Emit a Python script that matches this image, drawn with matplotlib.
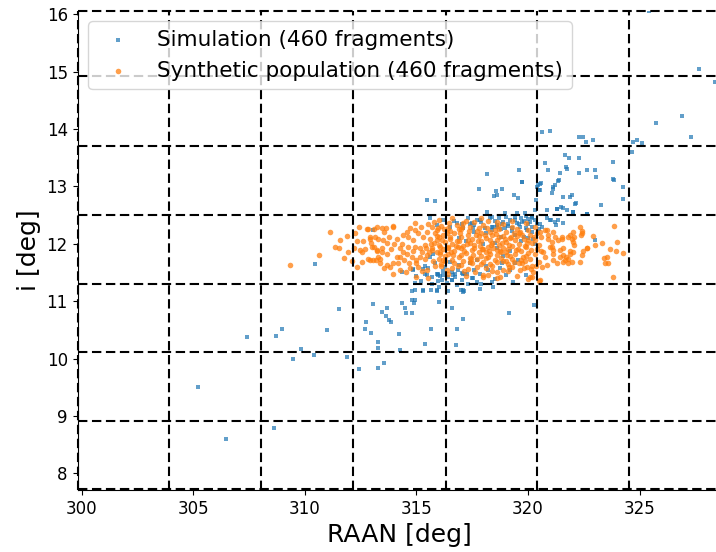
import numpy as np
import matplotlib
matplotlib.use("Agg")
import matplotlib.pyplot as plt

# Simulation fragments (RAAN deg, inclination deg)
sim_points = [
    (305.22, 9.50), (306.44, 8.59), (307.38, 10.38), (308.60, 8.79), (308.71, 10.40),
    (308.95, 10.51), (309.48, 9.99), (309.84, 10.16), (310.40, 10.06), (310.99, 10.49),
    (311.52, 10.86), (311.87, 10.02), (312.42, 9.82), (310.46, 11.64), (313.03, 10.95),
    (313.68, 10.88), (313.44, 10.81), (313.62, 10.74), (313.75, 10.68), (313.84, 10.63),
    (312.74, 10.63), (312.68, 10.51), (312.96, 10.45), (313.26, 10.29), (313.26, 10.18),
    (313.26, 9.83), (313.56, 9.93), (314.20, 10.43), (314.26, 10.15), (314.36, 10.97),
    (314.48, 10.88), (314.54, 10.79), (314.78, 10.79), (314.78, 11.02), (314.93, 11.02),
    (314.90, 10.96), (314.78, 11.17), (315.36, 10.26), (315.65, 10.51), (315.31, 11.17),
    (315.65, 11.19), (315.93, 11.17), (316.01, 10.98), (316.59, 10.88), (317.07, 10.69),
    (316.82, 10.51), (316.76, 10.24), (316.98, 11.19), (317.13, 11.17), (318.44, 11.24),
    (319.16, 10.79), (320.27, 10.93), (313.07, 12.24), (314.34, 11.51), (314.86, 11.54),
    (315.46, 12.76), (315.83, 12.74), (318.15, 13.21), (317.80, 12.95), (318.59, 12.85),
    (318.15, 12.56), (320.61, 13.94), (320.99, 13.97), (319.61, 13.28), (320.78, 13.40),
    (320.91, 13.28), (319.71, 13.08), (318.57, 12.92), (318.85, 12.95), (318.49, 12.83),
    (319.39, 12.85), (319.53, 12.79), (320.54, 13.04), (320.39, 12.98), (320.49, 12.93),
    (321.14, 12.96), (321.21, 13.02), (321.36, 13.09), (322.30, 13.86), (322.45, 13.86),
    (322.60, 13.78), (322.93, 13.80), (325.73, 14.10), (324.69, 13.78), (324.87, 13.80),
    (325.13, 13.76), (324.65, 13.60), (321.66, 13.54), (321.84, 13.49), (322.30, 13.50),
    (321.73, 13.31), (321.43, 13.24), (322.30, 13.24), (322.66, 13.28), (323.00, 13.28),
    (323.05, 13.17), (323.83, 13.42), (323.83, 13.13), (324.28, 12.99), (324.28, 12.78),
    (319.75, 13.08), (320.43, 13.02), (320.58, 13.05), (321.39, 13.11), (320.36, 12.76),
    (320.54, 12.93), (321.88, 12.82), (322.15, 12.71), (321.32, 12.61), (321.59, 12.63),
    (321.77, 12.58), (322.66, 12.51), (320.84, 12.58), (321.02, 12.42), (323.00, 12.06),
    (320.24, 12.09), (321.13, 12.99), (321.96, 12.85), (322.11, 12.70), (321.47, 12.64),
    (321.29, 12.60), (322.03, 12.55), (323.27, 12.67), (323.86, 13.11), (320.84, 12.44),
    (321.00, 12.41), (321.21, 12.38), (321.36, 12.41), (321.59, 12.36), (321.26, 12.32),
    (320.54, 12.35), (320.61, 12.29), (327.67, 15.05), (328.39, 14.82), (326.92, 14.23),
    (327.31, 13.86), (325.44, 16.05), (321.70, 13.34), (321.06, 12.89), (321.55, 12.82),
    (322.00, 12.56), (322.63, 12.52),
    (318.3, 12.45), (318.5, 12.40), (318.7, 12.44), (318.9, 12.38), (319.0, 12.46),
    (319.2, 12.42), (319.4, 12.47), (319.5, 12.36), (319.7, 12.44), (319.8, 12.40),
    (319.9, 12.48), (320.0, 12.43), (320.1, 12.38), (320.2, 12.45), (320.3, 12.41),
    (320.4, 12.34), (318.4, 12.30), (318.6, 12.33), (318.8, 12.25), (319.1, 12.31),
    (319.3, 12.22), (319.6, 12.34), (319.9, 12.27), (320.2, 12.20), (320.5, 12.25),
    (317.9, 12.38), (317.6, 12.32), (317.3, 12.44), (317.1, 12.28), (316.8, 12.36),
    (316.5, 12.30), (316.2, 12.41), (315.9, 12.33), (315.6, 12.45), (318.1, 12.18),
    (318.8, 12.12), (319.4, 12.15), (320.0, 12.10), (319.7, 12.05), (318.5, 12.02),
    (316.70, 12.40), (317.70, 12.41), (317.40, 12.35), (318.07, 12.28), (318.37, 12.24),
    (318.60, 12.29), (318.82, 12.35), (319.12, 12.35), (319.42, 12.41), (319.72, 12.38),
    (320.01, 12.35), (320.17, 12.29), (319.94, 12.24), (319.64, 12.29), (319.27, 12.27),
    (318.97, 12.27), (320.31, 12.59), (318.97, 12.53), (319.49, 12.53), (319.87, 12.53),
    (320.17, 12.47), (317.06, 12.34), (317.47, 12.36), (317.55, 12.27), (317.85, 12.41),
    (318.37, 12.47), (318.44, 12.29),
    (315.38, 11.48), (315.68, 11.42), (315.98, 11.45), (316.13, 11.37), (316.58, 11.37),
    (316.73, 11.42), (316.87, 11.54), (316.28, 11.60), (316.50, 11.68), (315.83, 11.66),
    (315.53, 11.57), (317.17, 11.48), (317.47, 11.40), (317.85, 11.48), (318.22, 11.54),
    (318.74, 11.57), (318.82, 11.66), (319.19, 11.54), (319.42, 11.66), (319.57, 11.71),
    (315.61, 11.77), (315.75, 11.83), (317.40, 11.66), (317.03, 11.37), (314.98, 11.44),
    (315.46, 11.45), (315.91, 11.47), (316.05, 11.44), (316.20, 11.45), (316.43, 11.42),
    (316.73, 11.48), (317.03, 11.49), (317.25, 11.47), (317.09, 11.19), (317.70, 11.34),
    (318.37, 11.34), (314.93, 11.31), (315.98, 11.35), (316.35, 11.31), (316.58, 11.37),
    (314.86, 11.56), (315.30, 11.56), (315.95, 11.48), (316.65, 11.45), (317.10, 11.48),
    (317.55, 11.40), (314.93, 11.19), (315.30, 11.19), (315.91, 11.19), (317.10, 11.16),
    (317.85, 11.22), (319.34, 11.34), (319.9, 11.45), (318.9, 11.78), (317.7, 11.72),
    (315.7, 11.30), (316.0, 11.24), (316.4, 11.18), (316.8, 11.28), (317.3, 11.30),
    (316.2, 11.52), (316.9, 11.63), (317.6, 11.55), (318.1, 11.62), (318.5, 11.38),
    (319.0, 11.45), (316.6, 11.50), (317.9, 11.30), (315.2, 11.35), (315.4, 11.62),
    (317.2, 12.05), (318.0, 12.00), (318.6, 11.93), (319.2, 11.88), (319.8, 12.12),
    (320.3, 12.00), (317.6, 12.20), (316.9, 12.10),
]

# Synthetic population (RAAN deg, inclination deg)
syn_points = [
    (309.33, 11.63), (310.63, 11.80), (311.11, 12.21), (311.58, 12.07), (311.35, 11.95),
    (311.51, 11.92), (311.75, 11.76), (312.09, 11.70), (312.24, 12.18), (312.32, 11.60),
    (312.57, 11.68), (312.54, 11.85), (312.35, 12.05), (312.61, 12.05), (312.81, 12.25),
    (312.91, 12.12), (313.29, 12.09), (312.96, 12.01), (313.09, 11.95), (313.21, 11.87),
    (312.91, 11.71), (313.18, 11.71), (313.36, 11.74), (313.56, 12.21), (313.69, 11.83),
    (313.81, 11.60), (313.56, 11.57), (313.96, 12.29), (314.11, 12.09), (314.26, 11.92),
    (314.11, 11.77), (314.18, 11.66), (314.56, 12.21), (314.71, 12.27), (315.08, 12.18),
    (314.63, 12.12), (314.86, 12.06), (314.93, 11.95), (314.56, 11.83), (314.78, 11.77),
    (315.00, 11.71), (315.08, 11.60), (315.30, 12.12), (315.38, 11.98), (315.23, 11.86),
    (315.38, 11.74), (315.53, 12.35),
    (312.77, 12.25), (313.09, 12.25), (313.24, 12.29), (313.47, 12.28), (313.63, 12.27),
    (313.96, 12.31), (312.91, 12.09), (313.14, 12.12), (313.51, 12.06), (313.66, 12.01),
    (312.99, 11.95), (313.21, 11.89), (313.44, 11.92), (312.47, 11.89), (312.84, 11.74),
    (313.06, 11.71), (313.29, 11.77), (313.36, 11.66), (313.69, 11.63), (313.96, 11.66),
    (314.26, 11.77), (314.41, 11.86), (314.63, 11.95), (314.93, 12.24), (315.68, 12.29),
    (315.83, 12.18), (315.91, 12.06), (316.05, 11.95), (315.68, 11.89), (315.46, 11.80),
    (315.16, 11.77), (315.00, 11.66), (314.71, 11.57), (314.26, 11.54), (315.46, 11.54),
    (315.53, 11.41), (315.00, 11.42), (316.05, 11.86), (316.20, 11.71), (316.43, 11.95),
    (316.50, 12.12), (316.35, 12.18),
    (316.0, 12.42), (316.6, 12.44), (317.2, 12.40), (317.9, 12.45), (318.6, 12.38),
    (319.3, 12.40), (319.9, 12.36), (320.3, 12.30),
    (316.1, 12.31), (316.4, 12.27), (316.8, 12.33), (317.0, 12.25), (317.4, 12.29),
    (317.7, 12.22), (318.0, 12.32), (318.3, 12.20), (318.7, 12.26), (319.0, 12.21),
    (319.3, 12.30), (319.6, 12.19), (320.0, 12.24), (320.4, 12.18),
    (315.9, 12.14), (316.2, 12.16), (316.5, 12.09), (316.7, 12.18), (317.0, 12.12),
    (317.3, 12.16), (317.5, 12.08), (317.8, 12.13), (318.1, 12.10), (318.4, 12.15),
    (318.6, 12.07), (318.9, 12.14), (319.2, 12.10), (319.5, 12.13), (319.8, 12.08),
    (320.1, 12.15), (320.3, 12.06), (320.6, 12.12),
    (315.8, 12.02), (316.0, 11.97), (316.3, 12.03), (316.6, 11.99), (316.9, 12.04),
    (317.1, 11.96), (317.4, 12.01), (317.6, 11.98), (317.9, 12.04), (318.2, 11.95),
    (318.4, 12.02), (318.7, 11.97), (319.0, 12.03), (319.3, 11.96), (319.6, 12.00),
    (319.9, 11.94), (320.2, 12.01), (320.5, 11.97),
    (315.9, 11.85), (316.2, 11.90), (316.4, 11.83), (316.7, 11.88), (317.0, 11.92),
    (317.2, 11.84), (317.5, 11.89), (317.8, 11.86), (318.0, 11.91), (318.3, 11.83),
    (318.6, 11.89), (318.8, 11.85), (319.1, 11.91), (319.4, 11.82), (319.7, 11.88),
    (320.0, 11.84), (320.4, 11.90),
    (316.0, 11.74), (316.3, 11.78), (316.6, 11.72), (316.9, 11.77), (317.1, 11.70),
    (317.4, 11.76), (317.7, 11.73), (318.0, 11.69), (318.2, 11.77), (318.5, 11.72),
    (318.8, 11.76), (319.0, 11.70), (319.3, 11.74), (319.7, 11.71), (320.1, 11.73),
    (320.5, 11.68),
    (316.1, 11.61), (316.6, 11.58), (317.0, 11.63), (317.3, 11.56), (317.7, 11.60),
    (318.1, 11.57), (318.4, 11.62), (318.9, 11.55), (319.3, 11.60), (319.8, 11.58),
    (320.2, 11.62),
    (316.4, 11.47), (317.2, 11.43), (318.0, 11.46), (318.6, 11.41), (319.5, 11.44),
    (320.0, 11.38),
    (316.5, 12.22), (317.1, 12.36), (317.6, 12.38), (318.2, 12.39), (318.9, 12.34),
    (319.5, 12.25), (317.3, 12.07), (317.9, 12.19), (318.5, 12.24), (316.8, 12.05),
    (317.6, 11.93), (318.3, 12.06), (318.9, 11.92), (319.4, 12.06), (316.4, 11.93),
    (317.0, 11.80), (317.9, 11.79), (318.6, 11.81), (319.2, 11.79), (319.9, 11.79),
    (316.7, 11.66), (317.5, 11.67), (318.3, 11.65), (319.1, 11.64), (319.6, 11.66),
    (320.3, 11.82), (320.6, 11.87), (317.8, 12.27), (316.3, 11.70), (315.7, 11.93),
    (315.9, 12.24), (316.9, 12.26), (318.1, 11.85), (319.0, 11.86), (318.7, 12.12),
    (320.0, 12.06),
    (316.15, 12.06), (316.45, 12.37), (316.75, 11.96), (316.95, 12.19), (317.15, 11.88),
    (317.35, 12.22), (317.55, 11.81), (317.75, 12.05), (317.95, 11.90), (318.15, 12.28),
    (318.35, 11.98), (318.55, 12.17), (318.75, 11.87), (318.95, 12.08), (319.15, 11.97),
    (319.35, 12.19), (319.55, 11.91), (319.75, 12.15), (319.95, 12.01), (320.15, 11.89),
    (316.05, 11.82), (316.25, 12.25), (316.55, 11.86), (316.85, 11.94), (317.05, 12.30),
    (317.25, 11.99), (317.45, 11.74), (317.65, 12.16), (317.85, 11.96), (318.05, 12.15),
    (318.25, 11.87), (318.45, 11.93), (318.65, 12.31), (318.85, 12.02), (319.05, 11.81),
    (319.25, 12.12), (319.45, 11.89), (319.65, 12.21), (319.85, 11.96), (320.25, 12.11),
    (316.12, 11.65), (316.38, 11.55), (316.62, 11.80), (316.88, 11.62), (317.12, 11.52),
    (317.38, 11.69), (317.62, 11.51), (317.88, 11.64), (318.12, 11.75), (318.38, 11.53),
    (318.62, 11.68), (318.88, 11.70), (319.12, 11.52), (319.38, 11.69), (319.62, 11.55),
    (319.88, 11.70), (320.12, 11.56), (320.38, 11.62),
    (315.62, 12.09), (315.72, 11.70), (315.85, 11.62), (315.55, 11.86), (315.78, 12.38),
    (315.48, 12.20), (315.95, 12.28), (316.02, 12.12), (315.65, 11.99), (315.42, 11.93),
    (314.35, 12.00), (314.45, 11.72), (314.65, 11.66), (314.85, 11.88), (315.15, 11.93),
    (315.20, 12.30), (314.95, 12.37), (314.40, 12.15), (313.85, 11.90), (313.75, 12.12),
    (314.00, 11.99), (315.25, 11.52), (314.55, 11.50), (313.95, 11.48), (313.45, 11.85),
    (312.70, 11.90), (312.20, 11.93), (311.90, 12.13), (311.95, 11.85), (312.40, 12.30),
    (323.86, 12.31), (324.01, 12.03), (323.68, 11.90), (323.93, 11.87), (324.28, 11.84),
    (323.80, 11.42), (323.30, 12.01), (323.42, 11.76), (323.60, 11.66), (322.66, 11.92),
    (322.41, 12.22), (322.38, 12.15), (322.00, 12.21), (322.08, 12.12), (322.00, 12.03),
    (322.08, 11.98), (321.81, 12.11), (321.54, 12.09), (321.36, 12.06), (321.59, 11.92),
    (321.43, 11.89), (321.88, 11.88), (322.03, 11.86), (322.45, 11.87), (322.41, 11.80),
    (321.70, 11.77), (321.43, 11.77), (321.81, 11.73), (322.33, 11.68), (321.59, 11.68),
    (321.06, 11.95), (321.13, 11.89), (321.13, 11.83), (320.69, 11.86), (320.76, 11.77),
    (320.84, 11.63), (320.54, 11.37), (320.76, 12.24), (321.13, 12.21), (321.21, 12.12),
    (320.91, 12.15), (321.06, 12.03), (320.54, 12.21), (320.09, 11.42), (320.51, 11.35),
    (322.93, 12.13), (322.33, 12.29), (322.41, 12.18), (321.88, 12.15), (321.96, 12.09),
    (321.51, 12.12), (320.91, 12.09), (320.84, 12.24), (321.00, 11.95), (322.63, 11.92),
    (323.00, 11.98), (323.53, 11.77), (323.45, 11.66), (321.88, 11.83), (321.59, 11.80),
    (321.66, 11.71), (321.81, 11.66), (321.96, 11.68), (321.31, 11.66), (321.13, 11.71),
    (320.61, 11.60), (319.79, 11.77), (319.94, 11.60), (319.72, 11.66), (320.24, 11.51),
    (319.15, 11.60), (318.59, 11.51), (318.74, 11.42), (318.22, 11.45), (318.00, 11.42),
    (320.17, 11.42),
]

raan_edges = [299.80, 303.91, 308.03, 312.17, 316.32, 320.42, 324.54, 328.66]
inc_edges = [7.72, 8.91, 10.12, 11.30, 12.50, 13.71, 14.92, 16.06]
x_ticks = [300, 305, 310, 315, 320, 325]
y_ticks = [8, 9, 10, 11, 12, 13, 14, 15, 16]

sim = np.array(sim_points)
syn = np.array(syn_points)

fig = plt.figure(figsize=(7.16, 5.52), dpi=100)
ax = fig.add_axes([77.5 / 716, 62 / 552, 643.2 / 716, 479.3 / 552])

ax.scatter(sim[:, 0], sim[:, 1], marker="s", s=7, color="#1f77b4", alpha=0.7,
           linewidths=0, label="Simulation (460 fragments)", zorder=3)
ax.scatter(syn[:, 0], syn[:, 1], marker="o", s=16, color="#ff7f0e", alpha=0.75,
           linewidths=0, label="Synthetic population (460 fragments)", zorder=3)

dash = (0, (4.5, 2.2))
for xe in raan_edges:
    ax.axvline(xe, color="black", linestyle=dash, linewidth=1.5, clip_on=False, zorder=4)
for ye in inc_edges:
    ax.axhline(ye, color="black", linestyle=dash, linewidth=1.5, clip_on=False, zorder=4)

ax.set_xlim(299.8, 328.64)
ax.set_ylim(7.71, 16.06)
ax.set_xticks(x_ticks)
ax.set_yticks(y_ticks)
ax.tick_params(labelsize=12)
ax.spines["top"].set_visible(False)
ax.spines["right"].set_visible(False)
ax.set_xlabel("RAAN [deg]", fontsize=18)
ax.set_ylabel("i [deg]", fontsize=18)

leg = ax.legend(loc="upper left", fontsize=15.5)
leg.set_zorder(5)

fig.savefig("out.png", dpi=100)
